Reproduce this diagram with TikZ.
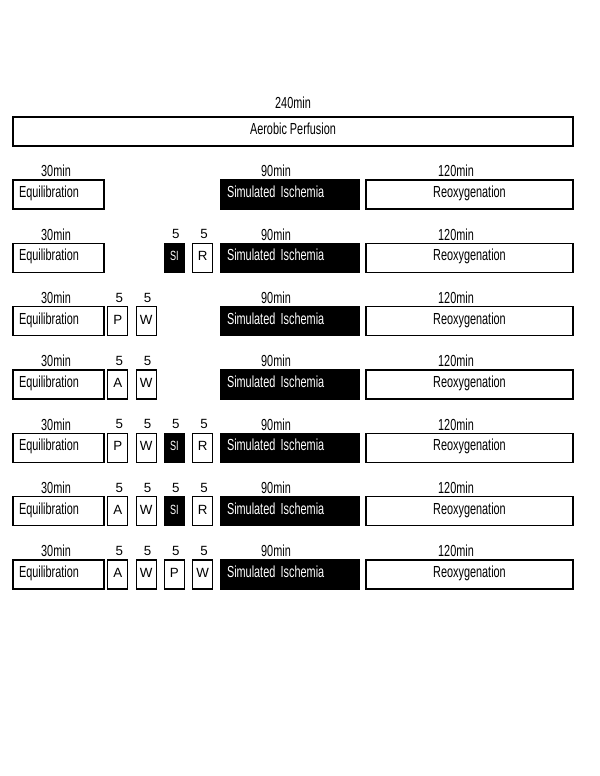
\documentclass[tikz,border=0pt]{standalone}
\usepackage{fontspec}
\setmainfont{Liberation Sans}[FakeStretch=0.68]
\newfontfamily\widefont{Liberation Sans}
\usetikzlibrary{positioning}
\tikzstyle{phase} = [rectangle, draw, line width=0.9pt, minimum height=21.75pt, inner ysep=0pt, text height=8pt, text depth=3.5pt]
\tikzstyle{equ} = [phase, minimum width=68.25pt, text width=59.25pt, inner xsep=4.5pt, align=left]
\tikzstyle{sim} = [phase, minimum width=103.5pt, text width=94.5pt, inner xsep=4.5pt, align=left, fill=black, text=white]
\tikzstyle{reo} = [phase, minimum width=155.25pt, align=center]
\tikzstyle{stepbox} = [phase, minimum width=15pt, inner xsep=0pt, font=\widefont]
\tikzstyle{dark} = [fill=black, text=white, font=\rmfamily]
\tikzstyle{time} = [inner sep=0pt]

\begin{document}
\begin{tikzpicture}[x=0.75pt, y=-0.75pt, font=\fontsize{12}{14}\selectfont]
        \useasboundingbox (0,0) rectangle (600,776);
        \node[time] (t-aer) at (293,103) {240min};
        \node[phase, minimum width=420pt] (aer) at (293,131.5) {Aerobic Perfusion};
        % the same three phases in every row
        \foreach \r [evaluate=\r as \yb using 194.5+63.33*\r,
                     evaluate=\r as \yl using 171+63.33*\r] in {0,...,6} {
            \node[time] (t-equ\r) at (56,\yl) {30min};
            \node[equ] (equ\r) at (58.5,\yb) {Equilibration};
            \node[time] (t-sim\r) at (276,\yl) {90min};
            \node[sim] (sim\r) at (290,\yb) {Simulated Ischemia};
            \node[time] (t-reo\r) at (456,\yl) {120min};
            \node[reo] (reo\r) at (469.5,\yb) {Reoxygenation};
        }
        % short 5 min steps
        \foreach \r/\p/\t/\s in {1/3/SI/dark, 1/4/R/,
                                 2/1/P/, 2/2/W/,
                                 3/1/A/, 3/2/W/,
                                 4/1/P/, 4/2/W/, 4/3/SI/dark, 4/4/R/,
                                 5/1/A/, 5/2/W/, 5/3/SI/dark, 5/4/R/,
                                 6/1/A/, 6/2/W/, 6/3/P/, 6/4/W/} {
            \pgfmathsetmacro{\xb}{89.5+28.3*\p}
            \pgfmathsetmacro{\yb}{194.5+63.33*\r}
            \pgfmathsetmacro{\yl}{171+63.33*\r}
            \node[time, font=\widefont] (t-box\r\p) at (\xb+1.5,\yl) {5};
            \node[stepbox, \s] (box\r\p) at (\xb,\yb) {\t};
        }
    \end{tikzpicture}
\end{document}
